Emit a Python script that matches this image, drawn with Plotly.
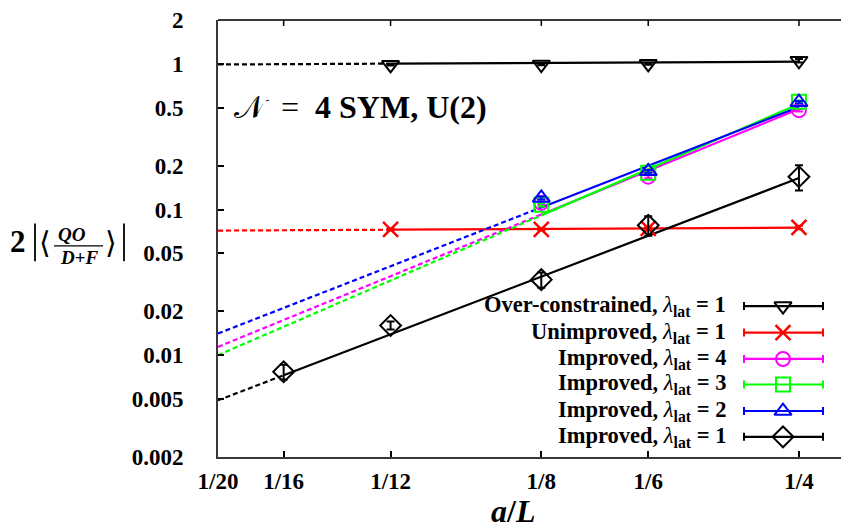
import numpy as np
import plotly.graph_objects as go

# ---------------- data ----------------
tick_labels = ["1/20", "1/16", "1/12", "1/8", "1/6", "1/4"]
tick_aL = [1/16, 1/12, 1/8, 1/6, 1/4]          # ticks after the left edge one
x_left_edge = 10 ** -1.2808                     # axis left edge, labelled "1/20"
x_right_edge = 10 ** -0.5436

y_ticks = [0.002, 0.005, 0.01, 0.02, 0.05, 0.1, 0.2, 0.5, 1, 2]
y_tick_text = ["0.002", "0.005", "0.01", "0.02", "0.05", "0.1", "0.2", "0.5", "1", "2"]

aL_over = [1/12, 1/8, 1/6, 1/4]
y_over = [0.985, 0.99, 1.0, 1.05]
e_over = [0.01, 0.01, 0.015, 0.03]

aL_unimp = [1/12, 1/8, 1/6, 1/4]
y_unimp = [0.0731, 0.0731, 0.0742, 0.0753]
e_unimp = [0.001, 0.001, 0.0015, 0.002]

aL_imp = [1/8, 1/6, 1/4]
y_imp4 = [0.111, 0.168, 0.481]
e_imp4 = [0.003, 0.004, 0.01]
y_imp3 = [0.108, 0.179, 0.55]
e_imp3 = [0.003, 0.004, 0.01]
y_imp2 = [0.120, 0.183, 0.545]
e_imp2 = [0.003, 0.004, 0.01]

aL_imp1 = [1/16, 1/12, 1/8, 1/6, 1/4]
y_imp1 = [0.0077, 0.0160, 0.033, 0.078, 0.168]
e_imp1 = [0.0009, 0.0010, 0.004, 0.012, 0.033]

# power-law fits  y = amp * (a/L)^expo , fitted from fit_start to 1/4
fit_amp = [1.0766, 0.07805, 13.76, 17.93, 12.14, 3.709]
fit_expo = [0.0284, 0.0288, 2.406, 2.540, 2.292, 2.248]
fit_start = [1/12, 1/12, 1/8, 1/8, 1/8, 1/16]

names = ["Over-constrained", "Unimproved", "Improved", "Improved", "Improved", "Improved"]
lam = ["1", "1", "4", "3", "2", "1"]
colors = ["#000000", "#ff0000", "#ff00ff", "#00ff00", "#0000ff", "#000000"]
symbols = ["triangle-down-open", "x-thin-open", "circle-open", "square-open",
           "triangle-up-open", "diamond-open"]
sizes = [15, 15, 14, 14, 15, 16]

xs = [aL_over, aL_unimp, aL_imp, aL_imp, aL_imp, aL_imp1]
ys = [y_over, y_unimp, y_imp4, y_imp3, y_imp2, y_imp1]
es = [e_over, e_unimp, e_imp4, e_imp3, e_imp2, e_imp1]

# ---------------- layout geometry ----------------
# the page body has an 8px margin, so the figure is 8px smaller and everything
# is expressed in window pixels (plot area: x 218..849, y 17..457)
PAGE_OFF = 8
W, H = 849 - PAGE_OFF, 529 - PAGE_OFF
PX0, PX1, PY0, PY1 = 218, 849, 17, 457
L, T = PX0 - PAGE_OFF, PY0 - PAGE_OFF
R = (849 - PX1)
B = H - T - (PY1 - PY0)
PW, PH = PX1 - PX0, PY1 - PY0
FONT = "Liberation Serif"


def px(xp):
    return (xp - PX0) / PW


def py(yp):
    return (PY1 - yp) / PH


fig = go.Figure()

x_end = 1/4
for i in range(6):
    xd = np.geomspace(x_left_edge, fit_start[i], 20)
    xsol = np.geomspace(fit_start[i], x_end, 20)
    fig.add_trace(go.Scatter(x=xd, y=fit_amp[i] * xd ** fit_expo[i], mode="lines",
                             line=dict(color=colors[i], width=2.2, dash="5px,3px"),
                             showlegend=False, hoverinfo="skip"))
    fig.add_trace(go.Scatter(x=xsol, y=fit_amp[i] * xsol ** fit_expo[i], mode="lines",
                             line=dict(color=colors[i], width=2.2),
                             showlegend=False, hoverinfo="skip"))

for i in range(6):
    lw = 2.5 if symbols[i].startswith("x") else 2
    fig.add_trace(go.Scatter(
        x=xs[i], y=ys[i], mode="markers",
        error_y=dict(type="data", array=es[i], color=colors[i], thickness=2, width=4),
        marker=dict(symbol=symbols[i], size=sizes[i], color=colors[i],
                    line=dict(color=colors[i], width=lw)),
        showlegend=False, cliponaxis=False))

# invisible trace for the mirrored right-hand ticks
fig.add_trace(go.Scatter(x=[None], y=[None], yaxis="y2", showlegend=False))

# ---------------- hand-made legend (text left, sample right) ----------------
rows = [305, 331.7, 358.3, 384, 410.7, 436.7]
lx0, lx1, lxm = 744, 823, 783
annotations = []
for i in range(6):
    yr = rows[i]
    fig.add_trace(go.Scatter(x=[lx0, lx1], y=[yr, yr], mode="lines",
                             line=dict(color=colors[i], width=2.2),
                             xaxis="x3", yaxis="y3", showlegend=False, hoverinfo="skip"))
    fig.add_trace(go.Scatter(x=[lx0, lx0, None, lx1, lx1], y=[yr - 4, yr + 4, None, yr - 4, yr + 4],
                             mode="lines", line=dict(color=colors[i], width=2),
                             xaxis="x3", yaxis="y3", showlegend=False, hoverinfo="skip"))
    lw = 2.5 if symbols[i].startswith("x") else 2
    fig.add_trace(go.Scatter(x=[lxm], y=[yr], mode="markers",
                             marker=dict(symbol=symbols[i], size=sizes[i], color=colors[i],
                                         line=dict(color=colors[i], width=lw)),
                             xaxis="x3", yaxis="y3", showlegend=False, hoverinfo="skip"))
    annotations.append(dict(
        x=px(728), y=py(yr), xref="paper", yref="paper", xanchor="right", yanchor="middle",
        showarrow=False,
        text=f"<b>{names[i]},</b> <i>λ</i><sub><b>lat</b></sub> <b>= {lam[i]}</b>",
        font=dict(family=FONT, size=22.5, color="black")))

# plot title inside the frame
annotations.append(dict(
    x=px(232), y=py(105), xref="paper", yref="paper", xanchor="left", yanchor="middle",
    showarrow=False, text="𝒩  =  <b>4 SYM, U(2)</b>",
    font=dict(family=FONT, size=32, color="black")))

# x axis title
annotations.append(dict(
    x=px(513), y=py(511), xref="paper", yref="paper", xanchor="center", yanchor="middle",
    showarrow=False, text="<b><i>a</i>/<i>L</i></b>",
    font=dict(family=FONT, size=32, color="black")))

# y axis title: 2 |< QO / (D+F) >|
annotations += [
    dict(x=px(18), y=py(240), xref="paper", yref="paper", xanchor="center", yanchor="middle",
         showarrow=False, text="<b>2</b>", font=dict(family=FONT, size=31, color="black")),
    dict(x=px(45), y=py(241), xref="paper", yref="paper", xanchor="center", yanchor="middle",
         showarrow=False, text="⟨", font=dict(family="DejaVu Serif", size=30, color="black")),
    dict(x=px(111), y=py(241), xref="paper", yref="paper", xanchor="center", yanchor="middle",
         showarrow=False, text="⟩", font=dict(family="DejaVu Serif", size=30, color="black")),
    dict(x=px(72), y=py(232.5), xref="paper", yref="paper", xanchor="center", yanchor="middle",
         showarrow=False, text="<b><i>QO</i></b>", font=dict(family=FONT, size=19, color="black")),
    dict(x=px(79), y=py(256), xref="paper", yref="paper", xanchor="center", yanchor="middle",
         showarrow=False, text="<b><i>D</i>+<i>F</i></b>", font=dict(family=FONT, size=19, color="black")),
]
axis_line = "#383838"
shapes = [
    dict(type="line", xref="paper", yref="paper", x0=px(35), x1=px(35), y0=py(222), y1=py(260),
         line=dict(color="black", width=1.8)),
    dict(type="line", xref="paper", yref="paper", x0=px(124), x1=px(124), y0=py(222), y1=py(260),
         line=dict(color="black", width=1.8)),
    dict(type="line", xref="paper", yref="paper", x0=px(54), x1=px(103), y0=py(244.5), y1=py(244.5),
         line=dict(color="black", width=1.3)),
    # top frame line
    dict(type="line", xref="paper", yref="paper", x0=0, x1=1, y0=1, y1=1,
         line=dict(color=axis_line, width=1.8)),
]

eps = 1e-6
x_range = [np.log10(x_left_edge), np.log10(x_right_edge)]
y_range = [np.log10(0.002) - eps, np.log10(2) + eps]

# mirrored top ticks at the same positions as the bottom ones
for t in tick_aL:
    xp = (np.log10(t) - x_range[0]) / (x_range[1] - x_range[0])
    shapes.append(dict(type="line", xref="paper", yref="paper", x0=xp, x1=xp,
                       y0=1, y1=1 - 6 / PH, line=dict(color="black", width=1.5)))

fig.update_layout(
    width=W, height=H, margin=dict(l=L, r=R, t=T, b=B, pad=0),
    paper_bgcolor="white", plot_bgcolor="white",
    font=dict(family=FONT, color="black"),
    xaxis=dict(type="log", range=x_range,
               tickvals=[x_left_edge] + tick_aL, ticktext=tick_labels,
               ticks="inside", ticklen=6, tickwidth=1.5, tickcolor="black",
               showline=True, linecolor=axis_line, linewidth=1.8,
               showgrid=False, zeroline=False, ticklabelstandoff=2,
               ticklabeloverflow="allow",
               tickfont=dict(family=FONT, size=23, color="black", weight="bold")),
    yaxis=dict(type="log", range=y_range,
               tickvals=y_ticks, ticktext=y_tick_text,
               ticks="inside", ticklen=6, tickwidth=1.5, tickcolor="black",
               showline=True, linecolor=axis_line, linewidth=1.8,
               showgrid=False, zeroline=False, ticklabelstandoff=28,
               ticklabeloverflow="allow",
               tickfont=dict(family=FONT, size=23, color="black", weight="bold")),
    yaxis2=dict(type="log", range=y_range, overlaying="y", side="right",
                tickvals=y_ticks, ticks="inside", ticklen=6, tickwidth=1.5, tickcolor="black",
                showticklabels=False, showline=False, showgrid=False, zeroline=False),
    xaxis3=dict(range=[PX0, PX1], overlaying="x", visible=False, anchor="y3"),
    yaxis3=dict(range=[PY1, PY0], overlaying="y", visible=False, anchor="x3"),
    annotations=annotations, shapes=shapes, showlegend=False,
)

fig.write_html("out.html")
